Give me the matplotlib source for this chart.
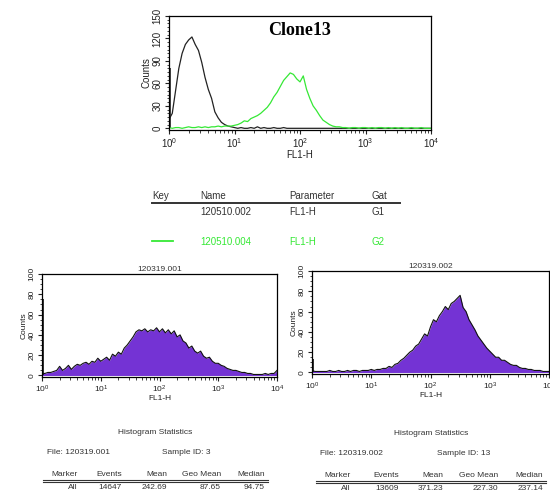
import matplotlib
matplotlib.use("Agg")
import matplotlib.pyplot as plt
import numpy as np
from matplotlib.lines import Line2D
from matplotlib.ticker import MultipleLocator, LogLocator, NullFormatter

W, H = 550, 498

# channel grid: log10(FL1-H) from 10^0 to 10^4, one value per 0.05 decade
chan = np.linspace(0, 4, 81)

# top panel (Clone13)
ctrl_counts = [12, 20, 50, 80, 100, 112, 118, 122, 112, 104,
               88, 68, 52, 40, 22, 14, 8, 5, 3, 2,
               1, 0, 1, 0, 0, 1, 0, 2, 0, 1,
               0, 0, 1, 0, 0, 1, 0, 0, 0, 0,
               0, 0, 0, 0, 0, 0, 0, 0, 0, 0,
               0, 0, 0, 0, 0, 0, 0, 0, 0, 0,
               0, 0, 0, 0, 0, 0, 0, 0, 0, 0,
               0, 0, 0, 0, 0, 0, 0, 0, 0, 0, 0]
ctrl_spike = 80
clone_counts = [1, 0, 1, 1, 0, 1, 2, 1, 1, 2,
                1, 2, 1, 2, 2, 3, 2, 3, 3, 3,
                4, 5, 7, 10, 9, 13, 15, 17, 20, 24,
                28, 34, 42, 48, 56, 64, 69, 74, 72, 66,
                62, 70, 52, 40, 30, 24, 17, 11, 8, 5,
                3, 2, 2, 1, 1, 0, 1, 1, 0, 1,
                1, 0, 1, 0, 1, 1, 0, 1, 0, 1,
                0, 1, 0, 0, 1, 0, 0, 1, 0, 0, 0]

# bottom panels
hist1_counts = [2, 2, 3, 3, 4, 5, 9, 5, 7, 10,
                6, 9, 11, 10, 12, 13, 11, 14, 13, 17,
                14, 16, 18, 15, 21, 19, 23, 21, 27, 30,
                34, 38, 43, 45, 44, 46, 43, 45, 44, 47,
                43, 46, 42, 45, 41, 44, 38, 40, 34, 32,
                27, 29, 24, 22, 24, 19, 17, 18, 14, 12,
                12, 10, 9, 7, 6, 5, 5, 4, 3, 3,
                2, 2, 1, 1, 1, 1, 2, 1, 2, 2, 5]
hist1_spike = 75
hist2_counts = [2, 1, 1, 1, 1, 1, 2, 1, 1, 2,
                1, 1, 2, 1, 2, 2, 1, 2, 2, 2,
                3, 2, 3, 3, 4, 4, 6, 5, 8, 9,
                12, 14, 17, 20, 22, 26, 28, 33, 38, 36,
                45, 52, 50, 56, 60, 65, 62, 68, 70, 73,
                76, 64, 60, 52, 47, 42, 36, 32, 28, 24,
                21, 18, 15, 15, 12, 12, 10, 8, 7, 7,
                5, 4, 4, 3, 3, 2, 2, 2, 1, 1, 1]
hist2_spike = 13

stats_cols = ["Marker", "Events", "Mean", "Geo Mean", "Median"]
stats1 = ["All", "14647", "242.69", "87.65", "94.75"]
stats2 = ["All", "13609", "371.23", "227.30", "237.14"]

GREEN = "#35e835"
PURPLE = "#7433d4"
TXT = "#333333"

fig = plt.figure(figsize=(W / 100, H / 100), dpi=100)
plt.rcParams["font.family"] = ["Liberation Sans", "DejaVu Sans"]


def put(x, y, s, **kw):
    fig.text(x / W, 1 - y / H, s, **kw)


def hline(x0, x1, y, lw=1.2, color="#333333"):
    fig.add_artist(Line2D([x0 / W, x1 / W], [1 - y / H, 1 - y / H],
                          transform=fig.transFigure, lw=lw, color=color))


def style_axis(ax, ymax, ystep, yminor, fs):
    ax.set_xscale("log")
    ax.set_xlim(1, 1e4)
    ax.set_ylim(-ymax * 0.015, ymax)
    ax.yaxis.set_major_locator(MultipleLocator(ystep))
    ax.yaxis.set_minor_locator(MultipleLocator(yminor))
    ax.xaxis.set_major_locator(LogLocator(base=10, numticks=10))
    ax.xaxis.set_minor_locator(LogLocator(base=10, subs=np.arange(2, 10), numticks=10))
    ax.xaxis.set_minor_formatter(NullFormatter())
    ax.tick_params(which="both", direction="out", labelsize=fs, colors="#222222", pad=1.5)
    ax.tick_params(which="major", length=3)
    ax.tick_params(which="minor", length=1.8)
    for lab in ax.get_yticklabels():
        lab.set_rotation(90)
        lab.set_va("center")
    ax.set_ylabel("Counts", fontsize=fs, labelpad=1, color="#222222")
    ax.set_xlabel("FL1-H", fontsize=fs, labelpad=0, color="#222222")
    for s in ax.spines.values():
        s.set_linewidth(0.9)


x = 10 ** chan
x_spike = 10 ** 0.012

# top panel
ax0 = fig.add_axes([169 / W, 1 - 130 / H, 262 / W, 114 / H])
ax0.plot(x, ctrl_counts, color="#222222", lw=0.9)
ax0.vlines(x_spike, 0, ctrl_spike, color="#222222", lw=1.2)
ax0.plot(x, clone_counts, color=GREEN, lw=0.9)
style_axis(ax0, 150, 30, 5, 7)
ax0.text(0.5, 0.87, "Clone13", transform=ax0.transAxes, ha="center", va="center",
         fontsize=13, fontweight="bold", family=["Liberation Serif", "DejaVu Serif"])

# bottom left
ax1 = fig.add_axes([42 / W, 1 - 377 / H, 235 / W, 103 / H])
ax1.fill_between(x, 0, hist1_counts, color=PURPLE, lw=0)
ax1.plot(x, hist1_counts, color="#111111", lw=0.8)
ax1.vlines(x_spike, 0, hist1_spike, color="#111111", lw=1.2)
style_axis(ax1, 100, 20, 5, 6)
ax1.set_title("120319.001", fontsize=6, pad=2, color="#333333")

# bottom right
ax2 = fig.add_axes([312 / W, 1 - 374 / H, 237 / W, 103 / H])
ax2.fill_between(x, 0, hist2_counts, color=PURPLE, lw=0)
ax2.plot(x, hist2_counts, color="#111111", lw=0.8)
ax2.vlines(x_spike, 0, hist2_spike, color="#111111", lw=1.2)
style_axis(ax2, 100, 20, 5, 6)
ax2.set_title("120319.002", fontsize=6, pad=2, color="#333333")

# key table
kfs = 7
put(152, 196, "Key", fontsize=kfs, color=TXT, va="center")
put(200, 196, "Name", fontsize=kfs, color=TXT, va="center")
put(289, 196, "Parameter", fontsize=kfs, color=TXT, va="center")
put(372, 196, "Gat", fontsize=kfs, color=TXT, va="center")
hline(152, 400, 203, lw=1.4)
put(200, 212, "120510.002", fontsize=kfs, color=TXT, va="center")
put(289, 212, "FL1-H", fontsize=kfs, color=TXT, va="center")
put(372, 212, "G1", fontsize=kfs, color=TXT, va="center")
hline(152, 173, 241, lw=1.3, color=GREEN)
put(200, 242, "120510.004", fontsize=kfs, color=GREEN, va="center")
put(289, 242, "FL1-H", fontsize=kfs, color=GREEN, va="center")
put(372, 242, "G2", fontsize=kfs, color=GREEN, va="center")


def stats_block(x0, x1, ytop, fname, sid, sid_x, vals, rights):
    sfs = 6
    put((x0 + x1) / 2, ytop, "Histogram Statistics", fontsize=sfs, color=TXT,
        ha="center", va="center")
    put(x0 + 4, ytop + 20, "File: " + fname, fontsize=sfs, color=TXT, va="center")
    put(sid_x, ytop + 20, "Sample ID: " + sid, fontsize=sfs, color=TXT, va="center")
    for c, r in zip(stats_cols, rights):
        put(r, ytop + 42, c, fontsize=sfs, color=TXT, ha="right", va="center")
    hline(x0, x1, ytop + 48, lw=0.8)
    hline(x0, x1, ytop + 49.5, lw=0.8)
    for v, r in zip(vals, rights):
        put(r, ytop + 55, v, fontsize=sfs, color=TXT, ha="right", va="center")


stats_block(43, 268, 432, "120319.001", "3", 162, stats1, [78, 122, 167, 221, 265])
stats_block(316, 546, 433, "120319.002", "13", 437, stats2, [351, 399, 443, 498, 543])

fig.savefig("out.png", dpi=100)
